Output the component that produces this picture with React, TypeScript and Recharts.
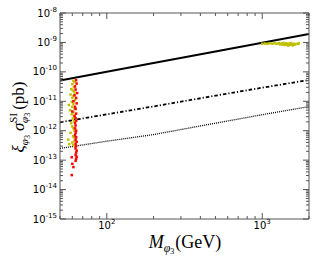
import React from 'react';
import { ComposedChart, Line, Scatter, XAxis, YAxis } from 'recharts';

// Exclusion limits, sampled along the mass axis (GeV -> pb)
const limitMass = [50, 100, 200, 500, 1000, 2000];
const solidSigma = [5.1e-11, 1.0e-10, 2.0e-10, 4.9e-10, 9.8e-10, 1.95e-9];
const dashDotSigma = [1.93e-12, 3.6e-12, 6.7e-12, 1.55e-11, 2.9e-11, 5.3e-11];
const dottedSigma = [2.5e-13, 4.4e-13, 7.4e-13, 1.8e-12, 3.5e-12, 6.6e-12];

// Scan points [mass, sigma]
const yellowPoints: [number, number][] = [
  [61, 5.0e-11], [62, 4.5e-11], [60, 3.8e-11], [61.5, 3.0e-11], [59, 2.6e-11],
  [60.5, 2.3e-11], [62, 2.0e-11], [58.5, 1.7e-11], [61, 1.5e-11], [60, 1.3e-11],
  [62.5, 1.1e-11], [59.5, 9.5e-12], [61, 8.0e-12], [57, 7.5e-12], [60, 6.5e-12],
  [62, 5.5e-12], [58, 5.0e-12], [61, 4.2e-12], [59.5, 3.6e-12], [62, 3.0e-12],
  [60.5, 2.6e-12], [61.5, 2.1e-12], [59, 1.8e-12], [60, 1.4e-12], [61, 1.2e-12],
  [62, 1.0e-12], [58.5, 8.5e-13], [60.7, 6.5e-13], [61.5, 6.0e-13], [56.5, 5.0e-13],
  [62, 4.5e-13], [60, 4.0e-13], [57.3, 3.5e-13], [61, 3.3e-13], [62.5, 2.8e-13],
  [1000, 9.0e-10], [1040, 9.2e-10], [1080, 9.0e-10], [1120, 9.4e-10], [1160, 9.1e-10],
  [1200, 9.3e-10], [1240, 9.0e-10], [1280, 9.5e-10], [1300, 8.6e-10], [1330, 9.2e-10],
  [1350, 8.4e-10], [1370, 9.6e-10], [1390, 8.8e-10], [1410, 8.2e-10], [1430, 9.4e-10],
  [1450, 8.6e-10], [1470, 7.8e-10], [1490, 9.1e-10], [1510, 8.3e-10], [1530, 9.5e-10],
  [1550, 8.7e-10], [1570, 7.9e-10], [1590, 9.0e-10], [1610, 8.4e-10], [1640, 8.8e-10],
  [1700, 8.9e-10], [1720, 9.3e-10],
];
const redPoints: [number, number][] = [
  [63.5, 5.2e-11], [64, 4.0e-11], [62.5, 3.2e-11], [63, 2.5e-11], [64.5, 1.9e-11],
  [62, 1.6e-11], [63.5, 1.3e-11], [61, 1.0e-11], [64, 8.5e-12], [62.5, 6.5e-12],
  [63, 5.5e-12], [60, 4.5e-12], [63.5, 3.8e-12], [62, 3.2e-12], [63, 2.7e-12],
  [63.5, 2.2e-12], [62.5, 1.8e-12], [63, 1.5e-12], [62.5, 1.2e-12], [63.5, 1.0e-12],
  [63, 8.5e-13], [62.5, 7.0e-13], [63.5, 6.0e-13], [63, 5.0e-13], [64, 4.2e-13],
  [63, 3.6e-13], [63.5, 3.0e-13], [63, 2.5e-13], [64, 2.1e-13], [63.5, 1.8e-13],
  [63, 1.5e-13], [64, 1.3e-13], [63.5, 1.1e-13], [63, 9.5e-14], [59.5, 1.25e-13],
  [60, 7.5e-14], [61, 5.8e-14], [59.5, 3.1e-14],
];

const massTicks = [50, 60, 70, 80, 90, 100, 200, 300, 400, 500, 600, 700, 800, 900, 1000, 2000];
const massLabels: Record<number, string> = { 100: '2', 1000: '3' };
const sigmaDecades = [-15, -14, -13, -12, -11, -10, -9, -8];

const sigmaTicks: number[] = [];
sigmaDecades.forEach((d) => {
  for (let k = 1; k <= (d === -8 ? 1 : 9); k++) sigmaTicks.push(k * Math.pow(10, d));
});

const limitRows = limitMass.map((m, i) => ({ m, solid: solidSigma[i], dashDot: dashDotSigma[i], dotted: dottedSigma[i] }));
const yellowRows = yellowPoints.map(([m, s]) => ({ m, s }));
const redRows = redPoints.map(([m, s]) => ({ m, s }));

const AXIS = '#555';
const TICK_FONT = 'DejaVu Sans';

const isDecade = (v: number) => Math.abs(Math.log10(v) - Math.round(Math.log10(v))) < 1e-6;

const LeftTick = (p: any) => {
  const v = p.payload.value;
  const major = isDecade(v);
  return (
    <g>
      <line x1={p.x} y1={p.y} x2={p.x + (major ? 6 : 3)} y2={p.y} stroke={AXIS} strokeWidth={1} />
      {major && (
        <text x={p.x - 3} y={p.y + 3.5} textAnchor="end" fontFamily={TICK_FONT} fontSize={10} fill="#000">
          10<tspan fontSize={7} dy={-5}>{Math.round(Math.log10(v))}</tspan>
        </text>
      )}
    </g>
  );
};

const RightTick = (p: any) => {
  const major = isDecade(p.payload.value);
  return <line x1={p.x} y1={p.y} x2={p.x - (major ? 6 : 3)} y2={p.y} stroke={AXIS} strokeWidth={1} />;
};

const BottomTick = (p: any) => {
  const v = p.payload.value;
  const major = isDecade(v);
  return (
    <g>
      <line x1={p.x} y1={p.y} x2={p.x} y2={p.y - (major ? 6 : 3)} stroke={AXIS} strokeWidth={1} />
      {massLabels[v] && (
        <text x={p.x} y={p.y + 10} textAnchor="middle" fontFamily={TICK_FONT} fontSize={10} fill="#000">
          10<tspan fontSize={7} dy={-5}>{massLabels[v]}</tspan>
        </text>
      )}
    </g>
  );
};

const TopTick = (p: any) => {
  const major = isDecade(p.payload.value);
  return <line x1={p.x} y1={p.y} x2={p.x} y2={p.y + (major ? 6 : 3)} stroke={AXIS} strokeWidth={1} />;
};

const square = (color: string) => (p: any) =>
  <rect x={p.cx - 1.25} y={p.cy - 1.25} width={2.5} height={2.5} fill={color} />;

export default function App() {
  return (
    <div style={{ position: 'absolute', left: 0, top: 0, background: '#fff' }}>
      <ComposedChart width={317} height={264} margin={{ top: 12, right: 7, bottom: 0, left: 0 }}>
        <XAxis xAxisId={0} dataKey="m" type="number" scale="log" domain={[50, 2000]} allowDataOverflow
          ticks={massTicks} interval={0} tickSize={0} tickMargin={0} height={45}
          axisLine={{ stroke: AXIS }} tickLine={false} tick={BottomTick} />
        <XAxis xAxisId="top" orientation="top" dataKey="m" type="number" scale="log" domain={[50, 2000]} allowDataOverflow
          ticks={massTicks} interval={0} tickSize={0} tickMargin={0} height={1}
          axisLine={{ stroke: AXIS }} tickLine={false} tick={TopTick} />
        <YAxis yAxisId={0} type="number" scale="log" domain={[1e-15, 1e-8]} allowDataOverflow
          ticks={sigmaTicks} interval={0} tickSize={0} tickMargin={0} width={60}
          axisLine={{ stroke: AXIS }} tickLine={false} tick={LeftTick} />
        <YAxis yAxisId="right" orientation="right" type="number" scale="log" domain={[1e-15, 1e-8]} allowDataOverflow
          ticks={sigmaTicks} interval={0} tickSize={0} tickMargin={0} width={1}
          axisLine={{ stroke: AXIS }} tickLine={false} tick={RightTick} />

        <Line data={limitRows} dataKey="dotted" type="linear" stroke="#000" strokeWidth={1.3}
          strokeDasharray="1 1" dot={false} isAnimationActive={false} />
        <Line data={limitRows} dataKey="dashDot" type="linear" stroke="#000" strokeWidth={1.8}
          strokeDasharray="3.5 2 1.2 2" dot={false} isAnimationActive={false} />
        <Scatter data={yellowRows} dataKey="s" shape={square('#bfbf00')} isAnimationActive={false} />
        <Scatter data={redRows} dataKey="s" shape={square('#ff0000')} isAnimationActive={false} />
        <Line data={limitRows} dataKey="solid" type="linear" stroke="#000" strokeWidth={2}
          dot={false} isAnimationActive={false} />

        <text transform="rotate(-90)" x={-117} y={24} textAnchor="middle" fontFamily="Liberation Serif" fontSize={17} fill="#000">
          <tspan fontStyle="italic">ξ</tspan>
          <tspan fontStyle="italic" fontSize={11} dy={4}>φ</tspan>
          <tspan fontSize={8} dy={2}>3</tspan>
          <tspan fontStyle="italic" dx={4} dy={-6}>σ</tspan>
          <tspan fontSize={11} dy={-7}>SI</tspan>
          <tspan fontStyle="italic" fontSize={11} dx={-10} dy={11}>φ</tspan>
          <tspan fontSize={8} dy={2}>3</tspan>
          <tspan dx={3} dy={-6}>(pb)</tspan>
        </text>
        <text x={185} y={248} textAnchor="middle" fontFamily="Liberation Serif" fontSize={18} fill="#000">
          <tspan fontStyle="italic">M</tspan>
          <tspan fontStyle="italic" fontSize={12} dy={4}>φ</tspan>
          <tspan fontSize={8} dy={2}>3</tspan>
          <tspan dx={1} dy={-6}>(GeV)</tspan>
        </text>
      </ComposedChart>
    </div>
  );
}
